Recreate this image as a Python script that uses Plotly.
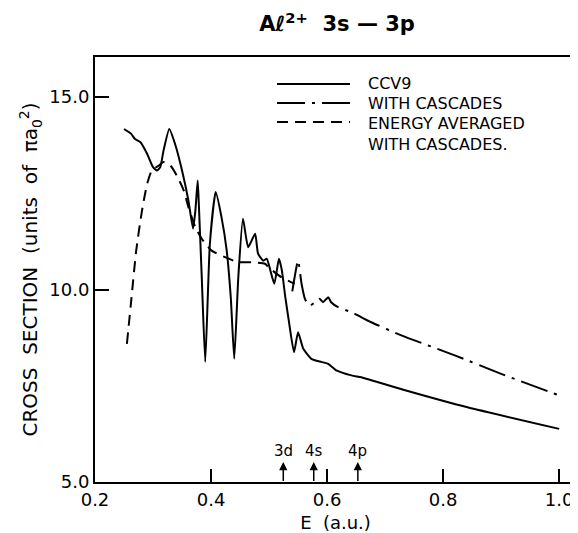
import plotly.graph_objects as go

# CCV9 (solid)
ccv9_x = [0.250, 0.262, 0.269, 0.278, 0.290, 0.300, 0.307, 0.3125, 0.318, 0.328, 0.338, 0.350,
          0.361, 0.369, 0.373, 0.377, 0.379, 0.384, 0.390, 0.398, 0.408, 0.418, 0.427, 0.434,
          0.440, 0.447, 0.455, 0.464, 0.476, 0.481, 0.490, 0.496, 0.509, 0.517, 0.522, 0.528,
          0.534, 0.543, 0.550, 0.559, 0.573, 0.590, 0.602, 0.616, 0.642, 0.659, 0.688, 0.733,
          0.842, 1.000]
ccv9_y = [14.17, 14.05, 13.91, 13.83, 13.52, 13.18, 13.09, 13.18, 13.60, 14.17, 13.78, 13.09,
          12.31, 11.58, 12.05, 12.83, 12.20, 10.32, 8.12, 11.19, 12.53, 11.88, 11.01, 9.80,
          8.20, 10.32, 11.84, 11.10, 11.45, 10.93, 10.75, 10.80, 10.15, 10.80, 10.50, 9.80,
          9.19, 8.37, 8.89, 8.46, 8.20, 8.12, 8.07, 7.90, 7.77, 7.72, 7.59, 7.39,
          6.94, 6.38]

# With cascades (dash-dot)
casc_x = [0.540, 0.550, 0.556, 0.562, 0.570, 0.579, 0.587, 0.593, 0.602, 0.607, 0.619, 0.642,
          0.676, 0.728, 0.820, 0.900, 1.000]
casc_y = [9.95, 10.75, 10.15, 9.75, 9.58, 9.67, 9.76, 9.67, 9.80, 9.67, 9.54, 9.41,
          9.15, 8.81, 8.29, 7.81, 7.25]

# Energy averaged with cascades (dashed)
avg_x = [0.255, 0.263, 0.271, 0.281, 0.290, 0.298, 0.310, 0.318, 0.330, 0.341, 0.353, 0.361,
         0.373, 0.384, 0.401, 0.424, 0.447, 0.470, 0.493, 0.499, 0.521, 0.544]
avg_y = [8.59, 9.80, 11.01, 12.05, 12.75, 13.09, 13.22, 13.31, 13.22, 12.96, 12.57, 12.14,
         11.62, 11.32, 11.01, 10.84, 10.71, 10.71, 10.67, 10.58, 10.32, 10.15]

# Threshold markers
thr_labels = ["3d", "4s", "4p"]
thr_x = [0.5245, 0.577, 0.653]

x_ticks = [0.2, 0.4, 0.6, 0.8, 1.0]
x_ticktext = ["0.2", "0.4", "0.6", "0.8", "1.0"]
y_ticks = [5, 10, 15]
y_ticktext = ["5.0", "10.0", "15.0"]

legend_names = ["CCV9", "WITH CASCADES", "ENERGY AVERAGED<br>WITH CASCADES."]

FONT = "DejaVu Sans"
# page body has an 8px margin: the figure sits at (8, 8)
OFF = 8
FIG_W, FIG_H = 578 - OFF, 533 - OFF
W0, W1, H0, H1 = 95, 576, 57, 482   # plot area in page pixels

fig = go.Figure()
fig.add_trace(go.Scatter(x=ccv9_x, y=ccv9_y, mode="lines", name=legend_names[0],
                         line=dict(color="black", width=2, shape="spline", smoothing=0.5)))
fig.add_trace(go.Scatter(x=casc_x, y=casc_y, mode="lines", name=legend_names[1],
                         line=dict(color="black", width=2, dash="28px,7px,3px,7px",
                                   shape="spline", smoothing=0.5)))
fig.add_trace(go.Scatter(x=avg_x, y=avg_y, mode="lines", name=legend_names[2],
                         line=dict(color="black", width=2, dash="11px,7px",
                                   shape="spline", smoothing=0.6)))

# threshold arrows (arrow from the axis up to just under each label)
for lab, xv in zip(thr_labels, thr_x):
    fig.add_annotation(x=xv, y=5.52, ax=xv, ay=5.0, xref="x", yref="y", axref="x", ayref="y",
                       text=" ", font=dict(size=1), borderpad=0,
                       showarrow=True, arrowhead=2, arrowsize=1.1, arrowwidth=1.5,
                       arrowcolor="black", standoff=0, startstandoff=0)
    fig.add_annotation(x=xv, y=5.8, xref="x", yref="y", text=lab, showarrow=False,
                       font=dict(family=FONT, size=15, color="black"))

def px(xp):
    return (xp - W0) / (W1 - W0)
def py(yp):
    return (H1 - yp) / (H1 - H0)

leg_dash = ["solid", "28px,7px,3px,7px", "11px,7px"]
leg_y = [84, 103, 122]
for d, yy in zip(leg_dash, leg_y):
    fig.add_shape(type="line", xref="paper", yref="paper", x0=px(277), x1=px(350),
                  y0=py(yy), y1=py(yy), line=dict(color="black", width=2, dash=d))
for name, yy in zip(legend_names, leg_y):
    multi = "<br>" in name
    fig.add_annotation(xref="paper", yref="paper", x=px(366), y=py(yy), xanchor="left",
                       yanchor="top" if multi else "middle",
                       yshift=10 if multi else 0,
                       text=name, showarrow=False, align="left",
                       font=dict(family=FONT, size=16, color="black"))

fig.update_layout(
    width=FIG_W, height=FIG_H,
    margin=dict(l=W0 - OFF, r=FIG_W - (W1 - OFF), t=H0 - OFF, b=FIG_H - (H1 - OFF)),
    paper_bgcolor="white", plot_bgcolor="white",
    showlegend=False,
    title=dict(text="Aℓ<sup>2+</sup>  3s — 3p", x=(337 - OFF) / FIG_W, xanchor="center",
               y=1 - (24 - OFF) / FIG_H, yanchor="middle",
               font=dict(family=FONT, size=21, color="black", weight="bold")),
    font=dict(family=FONT, color="black"),
)
fig.update_xaxes(range=[0.2, 1.029], tickvals=x_ticks, ticktext=x_ticktext,
                 ticks="inside", ticklen=13, tickwidth=1.5, tickcolor="black",
                 showline=True, linecolor="black", linewidth=2, mirror=True,
                 showgrid=False, zeroline=False, automargin=False,
                 tickfont=dict(family=FONT, size=18, color="black"),
                 title=dict(text="E  (a.u.)", font=dict(family=FONT, size=18, color="black"), standoff=8))
fig.update_yaxes(range=[5, 16.04], tickvals=y_ticks, ticktext=y_ticktext,
                 ticks="inside", ticklen=14, tickwidth=1.5, tickcolor="black",
                 showline=True, linecolor="black", linewidth=2, mirror=False,
                 showgrid=False, zeroline=False, automargin=False,
                 tickfont=dict(family=FONT, size=18, color="black"),
                 title=dict(text="CROSS  SECTION  (units  of  πa<sub>0</sub><sup>2</sup>)",
                            font=dict(family=FONT, size=20, color="black"), standoff=6))

fig.write_html("out.html")
